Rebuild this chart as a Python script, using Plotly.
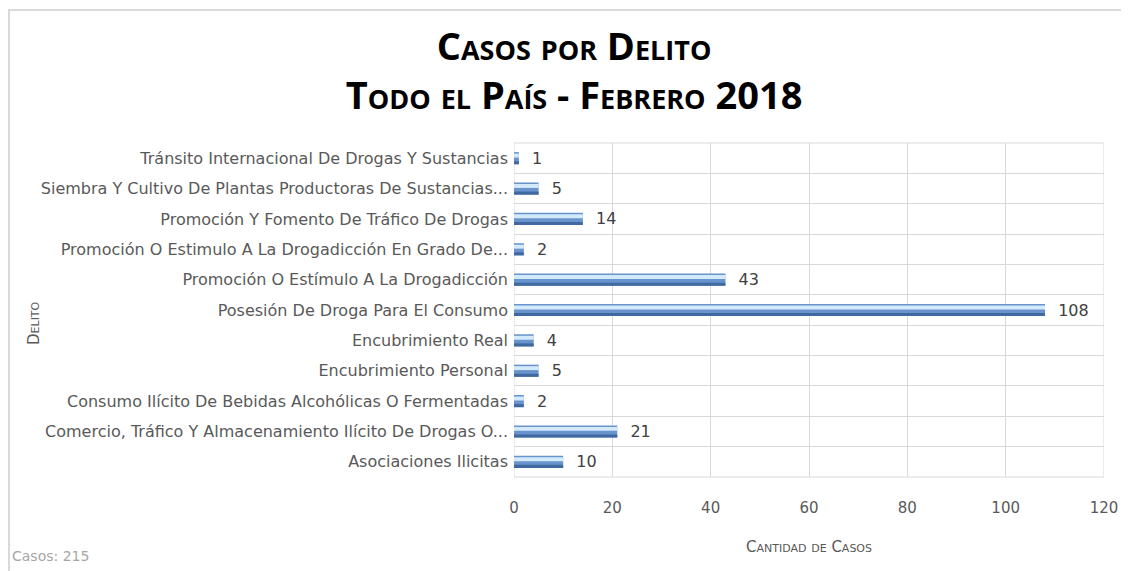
import plotly.graph_objects as go

categories = [
    "Asociaciones Ilicitas",
    "Comercio, Tráfico Y Almacenamiento Ilícito De Drogas O...",
    "Consumo Ilícito De Bebidas Alcohólicas O Fermentadas",
    "Encubrimiento Personal",
    "Encubrimiento Real",
    "Posesión De Droga Para El Consumo",
    "Promoción O Estímulo A La Drogadicción",
    "Promoción O Estimulo A La Drogadicción En Grado De...",
    "Promoción Y Fomento De Tráfico De Drogas",
    "Siembra Y Cultivo De Plantas Productoras De Sustancias...",
    "Tránsito Internacional De Drogas Y Sustancias",
]
values = [10, 21, 2, 5, 4, 108, 43, 2, 14, 5, 1]
x_ticks = [0, 20, 40, 60, 80, 100, 120]

LABEL_FONT = "DejaVu Sans"
GRID = "#d9d9d9"

fig = go.Figure()
# main bar body
fig.add_trace(go.Bar(
    y=categories, x=values, orientation="h",
    width=0.4, offset=-0.2,
    marker=dict(color="#6893cd", line=dict(width=0)),
    text=values, texttemplate="  %{x}", textposition="outside",
    constraintext="none",
    textfont=dict(family=LABEL_FONT, size=16, color="#404040"),
    cliponaxis=False, hoverinfo="skip", showlegend=False,
))
# darker lower strip
fig.add_trace(go.Bar(
    y=categories, x=values, orientation="h",
    width=0.1, offset=-0.2,
    marker=dict(color="#40699f", line=dict(width=0)),
    hoverinfo="skip", showlegend=False,
))
# light highlight band
fig.add_trace(go.Bar(
    y=categories, x=values, orientation="h",
    width=0.13, offset=0.02,
    marker=dict(color="#d3eafb", line=dict(width=0)),
    hoverinfo="skip", showlegend=False,
))

fig.update_layout(
    width=1121, height=563,
    margin=dict(l=506, r=25, t=135, b=94, autoexpand=False),
    paper_bgcolor="white", plot_bgcolor="white",
    barmode="overlay",
    title=dict(
        text="Casos por Delito<br>Todo el País - Febrero 2018",
        x=0.505, xanchor="center", y=0.908, yanchor="middle",
        font=dict(family="Open Sans", size=38, color="#000000",
                  weight="bold", variant="small-caps"),
    ),
    xaxis=dict(
        range=[0, 120], tickvals=x_ticks, showgrid=True, gridcolor=GRID,
        gridwidth=1, zeroline=False, showline=False,
        ticks="outside", ticklen=17, tickcolor="rgba(0,0,0,0)",
        tickfont=dict(family=LABEL_FONT, size=15, color="#595959"),
        title=dict(text="Cantidad de Casos", standoff=25,
                   font=dict(family=LABEL_FONT, size=15, color="#595959",
                             variant="small-caps")),
    ),
    yaxis=dict(
        type="category", categoryorder="array", categoryarray=categories,
        tickson="boundaries", showgrid=True, gridcolor=GRID, gridwidth=1,
        ticks="", ticklabelstandoff=5,
        showline=False, zeroline=False,
        tickfont=dict(family=LABEL_FONT, size=16, color="#595959"),
        range=[-0.5, len(categories) - 0.5],
    ),
    annotations=[
        dict(text="Delito", xref="paper", yref="paper", x=-0.8136, y=0.461,
             xanchor="center", yanchor="middle", textangle=-90, showarrow=False,
             font=dict(family=LABEL_FONT, size=15, color="#595959",
                       variant="small-caps")),
        dict(text=f"Casos: {sum(values)}", xref="paper", yref="paper",
             x=-0.854, y=-0.2365, xanchor="left", yanchor="middle",
             showarrow=False,
             font=dict(family=LABEL_FONT, size=14, color="#a6a6a6")),
    ],
    shapes=[
        dict(type="rect", xref="paper", yref="paper",
             xsizemode="pixel", xanchor=0, x0=-505, x1=700,
             ysizemode="pixel", yanchor=1, y0=-1000, y1=133,
             line=dict(color=GRID, width=2), layer="below"),
        dict(type="rect", xref="x", yref="paper", x0=0, x1=120, y0=0, y1=1,
             line=dict(color=GRID, width=1), layer="below"),
    ],
)

fig.write_html("out.html")
